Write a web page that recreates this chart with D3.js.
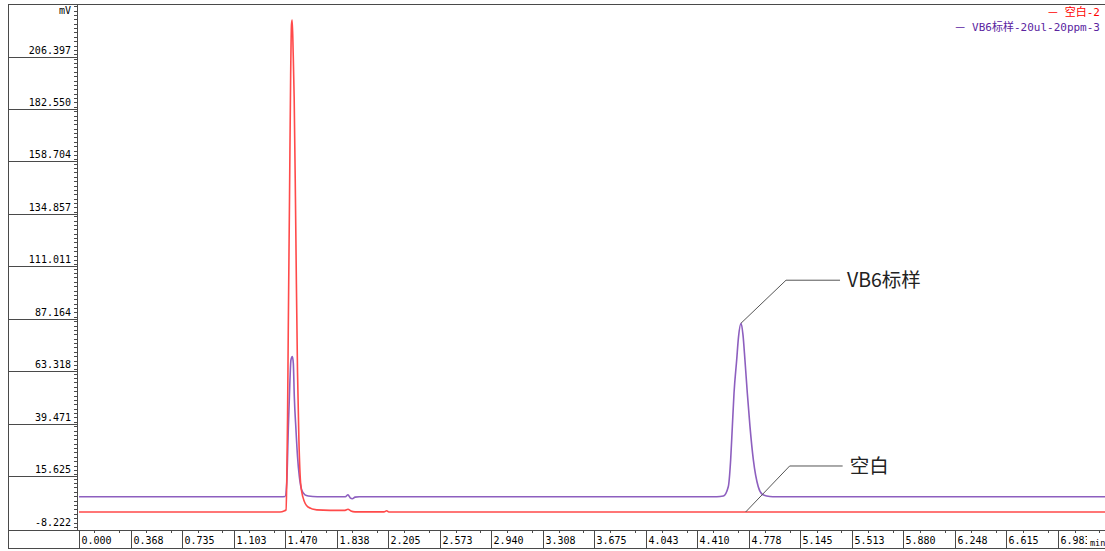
<!DOCTYPE html>
<html>
<head>
<meta charset="utf-8">
<script src="https://cdn.jsdelivr.net/npm/d3@7"></script>
<style>
  html, body { margin: 0; padding: 0; background: #fff; }
  svg { display: block; }
</style>
</head>
<body>
<svg id="chart" width="1105" height="551"></svg>
<script>
// Y axis tick labels (mV)
const yTickLabels = ["206.397", "182.550", "158.704", "134.857", "111.011",
                     "87.164", "63.318", "39.471", "15.625", "-8.222"];
// X axis tick labels (min)
const xTickLabels = ["0.000", "0.368", "0.735", "1.103", "1.470", "1.838", "2.205",
                     "2.573", "2.940", "3.308", "3.675", "4.043", "4.410", "4.778",
                     "5.145", "5.513", "5.880", "6.248", "6.615", "6.983"];

// Trace "空白-2": time (min) and signal (mV)
const blankTime = [0.000, 1.434, 1.463, 1.477, 1.482, 1.488, 1.493, 1.502, 1.510, 1.516,
                   1.521, 1.528, 1.535, 1.544, 1.551, 1.559, 1.569, 1.581, 1.597, 1.634,
                   1.696, 1.791, 1.898, 1.919, 1.940, 1.969, 2.176, 2.195, 2.210, 7.320];
const blankMv   = [-3.45, -3.45, -3.0, -2.5, 9.7, 40.0, 79.0, 140.0, 195.0, 218.0,
                   220.0, 205.0, 185.0, 140.0, 100.0, 60.0, 29.0, 9.7, 3.4, -1.2,
                   -2.5, -2.7, -2.7, -2.2, -3.0, -3.4, -3.4, -2.9, -3.45, -3.45];

// Trace "VB6标样-20ul-20ppm-3": time (min) and signal (mV)
const stdTime = [0.000, 1.440, 1.470, 1.482, 1.493, 1.505, 1.512, 1.522, 1.529, 1.536,
                 1.548, 1.559, 1.572, 1.589, 1.612, 1.636, 1.700, 1.900, 1.919, 1.935,
                 1.950, 1.970, 2.000, 4.550, 4.597, 4.632, 4.649, 4.661, 4.673, 4.692,
                 4.705, 4.723, 4.737, 4.751, 4.768, 4.787, 4.811, 4.846, 4.873, 4.906,
                 4.950, 7.320];
const stdMv   = [3.5, 3.5, 3.6, 9.6, 33.8, 56.5, 65.6, 67.1, 64.1, 49.0,
                 33.8, 21.7, 12.6, 6.5, 4.3, 3.8, 3.5, 3.5, 4.4, 3.0,
                 2.6, 3.3, 3.5, 3.5, 3.8, 8.0, 20.2, 35.3, 50.5, 65.6,
                 76.0, 82.3, 77.0, 65.6, 50.5, 35.3, 20.2, 8.0, 4.7, 3.8,
                 3.5, 3.5];

// Legend entries and peak annotations
const legendNames = ["空白-2", "VB6标样-20ul-20ppm-3"];
const peakNotes = [
  { text: "VB6标样", time: 4.723, mv: 82.3 },
  { text: "空白",    time: 4.756, mv: -3.45 }
];

const W = 1105, H = 551;
const frameLeft = 8, frameTop = 4, axisX = 79, xBoxTop = 530, xBoxBottom = 548;
const svg = d3.select("#chart");
const monoFont = "'DejaVu Sans Mono', 'Liberation Mono', monospace";
const cjkFont = "'Noto Sans CJK SC', 'Noto Sans', sans-serif";

const x = d3.scaleLinear().domain([0, 7.3197]).range([axisX, W]);
const y = d3.scaleLinear().domain([-8.222, 206.397]).range([522.5, 50]);

const frameColor = "#4a4a4a";
const crisp = v => Math.round(v) + 0.5;

// Outer frame lines
const frame = svg.append("g").attr("stroke", frameColor).attr("stroke-width", 1).attr("fill", "none");
frame.append("line").attr("x1", frameLeft).attr("x2", W).attr("y1", crisp(frameTop)).attr("y2", crisp(frameTop));
frame.append("line").attr("x1", crisp(frameLeft)).attr("x2", crisp(frameLeft)).attr("y1", frameTop).attr("y2", xBoxBottom + 1);
frame.append("line").attr("x1", frameLeft).attr("x2", W).attr("y1", crisp(xBoxTop)).attr("y2", crisp(xBoxTop));
frame.append("line").attr("x1", frameLeft).attr("x2", W).attr("y1", crisp(xBoxBottom)).attr("y2", crisp(xBoxBottom));
frame.append("line").attr("x1", crisp(axisX - 2)).attr("x2", crisp(axisX - 2)).attr("y1", frameTop).attr("y2", xBoxTop);

// Y axis: labels, cell separators, major and minor ticks
const yVals = yTickLabels.map(Number);
const yAxisG = svg.append("g");
yVals.forEach((v, i) => {
  const ty = y(v);
  yAxisG.append("text")
    .attr("x", 71).attr("y", ty).attr("dy", "0.35em")
    .attr("text-anchor", "end")
    .attr("font-family", monoFont).attr("font-size", 10).attr("fill", "#000")
    .text(yTickLabels[i]);
  if (i < yVals.length - 1) {
    yAxisG.append("line")
      .attr("x1", frameLeft).attr("x2", axisX - 2)
      .attr("y1", crisp(ty + 6.5)).attr("y2", crisp(ty + 6.5))
      .attr("stroke", frameColor);
  }
});
const yStep = yVals[0] - yVals[1];
const yMinor = [];
for (let k = -2; k <= 12 * 9 + 10; k++) {
  const v = yVals[yVals.length - 1] + k * yStep / 12;
  if (y(v) > frameTop + 2 && y(v) < xBoxTop - 1) yMinor.push(v);
}
yAxisG.selectAll("line.ytick").data(yMinor).enter().append("line")
  .attr("class", "ytick")
  .attr("x1", axisX - 5).attr("x2", axisX - 2)
  .attr("y1", d => crisp(y(d))).attr("y2", d => crisp(y(d)))
  .attr("stroke", frameColor);
yAxisG.append("text")
  .attr("x", 71).attr("y", 10).attr("dy", "0.35em")
  .attr("text-anchor", "end")
  .attr("font-family", monoFont).attr("font-size", 10)
  .text("mV");

// X axis box: dividers, labels, minor ticks
const xVals = xTickLabels.map(Number);
const xAxisG = svg.append("g");
svg.append("defs").append("clipPath").attr("id", "xlabel-clip")
  .append("rect").attr("x", 0).attr("y", 0).attr("width", 1087).attr("height", H);
xVals.forEach((v, i) => {
  const tx = crisp(x(v));
  xAxisG.append("line")
    .attr("x1", tx).attr("x2", tx).attr("y1", xBoxTop).attr("y2", xBoxBottom)
    .attr("stroke", frameColor);
  xAxisG.append("text")
    .attr("x", tx + 2).attr("y", 544)
    .attr("clip-path", "url(#xlabel-clip)")
    .attr("font-family", monoFont).attr("font-size", 10).attr("fill", "#000")
    .text(xTickLabels[i]);
});
const xStep = xVals[1];
const xMinor = [];
for (let k = 0; k < 21; k++) {
  [0.3, 0.78].forEach(f => {
    const v = (k + f) * xStep;
    if (x(v) < W - 2) xMinor.push(v);
  });
}
xAxisG.selectAll("line.xtick").data(xMinor).enter().append("line")
  .attr("class", "xtick")
  .attr("x1", d => crisp(x(d))).attr("x2", d => crisp(x(d)))
  .attr("y1", xBoxTop).attr("y2", xBoxTop + 3)
  .attr("stroke", frameColor);
xAxisG.append("text")
  .attr("x", 1090).attr("y", 546)
  .attr("font-family", monoFont).attr("font-size", 8.5)
  .text("min");

// Traces
const lineGen = d3.line().x(d => x(d[0])).y(d => y(d[1])).curve(d3.curveMonotoneX);
const plotG = svg.append("g");
plotG.append("path")
  .datum(d3.zip(stdTime, stdMv))
  .attr("d", lineGen)
  .attr("fill", "none").attr("stroke", "#8d5fbf").attr("stroke-width", 1.6);
plotG.append("path")
  .datum(d3.zip(blankTime, blankMv))
  .attr("d", lineGen)
  .attr("fill", "none").attr("stroke", "#ff4a4a").attr("stroke-width", 1.6);

// Peak annotations with elbow leaders
const noteG = svg.append("g");
const noteOffsets = [{ dx: 45, dy: -43, len: 99, tx: 106 }, { dx: 44, dy: -46, len: 97, tx: 104 }];
peakNotes.forEach((n, i) => {
  const px = x(n.time), py = y(n.mv), o = noteOffsets[i];
  noteG.append("polyline")
    .attr("points", [[px, py], [px + o.dx, py + o.dy], [px + o.len, py + o.dy]].map(p => p.join(",")).join(" "))
    .attr("fill", "none").attr("stroke", "#555").attr("stroke-width", 1);
  noteG.append("text")
    .attr("x", px + o.tx).attr("y", py + o.dy).attr("dy", "0.35em")
    .attr("font-family", cjkFont)
    .attr("font-size", 19.5).attr("fill", "#222")
    .text(n.text);
});

// Legend (top right)
const legendColors = ["#ff0000", "#5b259f"];
legendNames.forEach((name, i) => {
  const t = svg.append("text")
    .attr("x", 1100).attr("y", 12 + i * 15).attr("dy", "0.35em")
    .attr("text-anchor", "end")
    .attr("font-size", 11).attr("fill", legendColors[i]);
  t.append("tspan").attr("font-family", cjkFont).text("—");
  t.append("tspan").attr("dx", 7).attr("font-family", monoFont + ", 'Noto Sans CJK SC'").text(name);
});
</script>
</body>
</html>
